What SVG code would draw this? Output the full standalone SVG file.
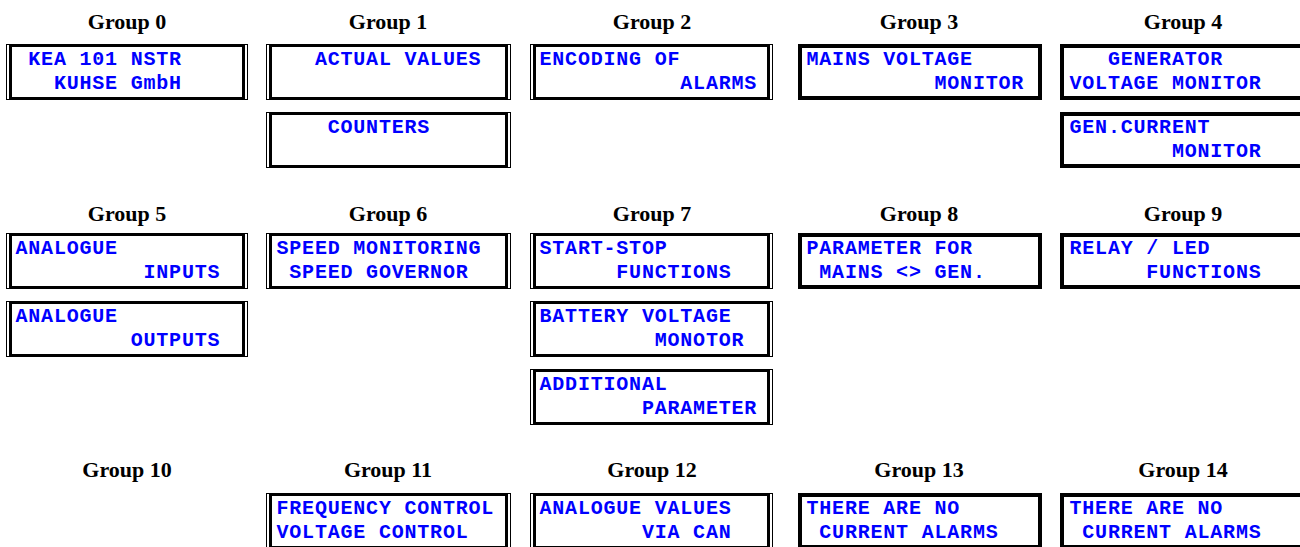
<svg xmlns="http://www.w3.org/2000/svg" width="1300" height="547" viewBox="0 0 1300 547">
<style>
.bg{fill:#ffffff}
.title{font-family:"Liberation Serif","Times New Roman",serif;font-weight:bold;font-size:22px;fill:#000;text-anchor:middle}
.lcd{font-family:"Courier New","Liberation Mono",monospace;font-weight:bold;font-size:20px;letter-spacing:0.8px;fill:#0000ff}
.thin{fill:none;stroke:#000;stroke-width:1}
.thick{fill:none;stroke:#000;stroke-width:3}
.single{fill:none;stroke:#000;stroke-width:4}
</style>
<rect class="bg" x="0" y="0" width="1300" height="547"/>
<g id="titles">
<text class="title" x="127" y="29">Group 0</text>
<text class="title" x="388" y="29">Group 1</text>
<text class="title" x="652" y="29">Group 2</text>
<text class="title" x="919" y="29">Group 3</text>
<text class="title" x="1183" y="29">Group 4</text>
<text class="title" x="127" y="221">Group 5</text>
<text class="title" x="388" y="221">Group 6</text>
<text class="title" x="652" y="221">Group 7</text>
<text class="title" x="919" y="221">Group 8</text>
<text class="title" x="1183" y="221">Group 9</text>
<text class="title" x="127" y="477">Group 10</text>
<text class="title" x="388" y="477">Group 11</text>
<text class="title" x="652" y="477">Group 12</text>
<text class="title" x="919" y="477">Group 13</text>
<text class="title" x="1183" y="477">Group 14</text>
</g>
<g id="group0">
<rect class="thin" x="6.5" y="44.5" width="241" height="55"/><rect class="thick" x="10.5" y="45.5" width="233" height="53"/>
<text class="lcd" x="28.3" y="65">KEA 101 NSTR</text><text class="lcd" x="53.9" y="89">KUHSE GmbH</text>
</g>
<g id="group1">
<rect class="thin" x="266.5" y="44.5" width="244" height="55"/><rect class="thick" x="270.5" y="45.5" width="236" height="53"/>
<text class="lcd" x="314.9" y="65">ACTUAL VALUES</text>
<rect class="thin" x="266.5" y="112.5" width="244" height="55"/><rect class="thick" x="270.5" y="113.5" width="236" height="53"/>
<text class="lcd" x="327.7" y="133">COUNTERS</text>
</g>
<g id="group2">
<rect class="thin" x="530.5" y="44.5" width="242" height="55"/><rect class="thick" x="534.5" y="45.5" width="234" height="53"/>
<text class="lcd" x="539.5" y="65">ENCODING OF</text><text class="lcd" x="680.3" y="89">ALARMS</text>
</g>
<g id="group3">
<rect class="single" x="800" y="46" width="240" height="52"/>
<text class="lcd" x="806.5" y="65">MAINS VOLTAGE</text><text class="lcd" x="934.5" y="89">MONITOR</text>
</g>
<g id="group4">
<rect class="single" x="1062" y="46" width="240" height="52"/>
<text class="lcd" x="1107.9" y="65">GENERATOR</text><text class="lcd" x="1069.5" y="89">VOLTAGE MONITOR</text>
<rect class="single" x="1062" y="114" width="240" height="52"/>
<text class="lcd" x="1069.5" y="133">GEN.CURRENT</text><text class="lcd" x="1171.9" y="157">MONITOR</text>
</g>
<g id="group5">
<rect class="thin" x="6.5" y="233.5" width="241" height="55"/><rect class="thick" x="10.5" y="234.5" width="233" height="53"/>
<text class="lcd" x="15.5" y="254">ANALOGUE</text><text class="lcd" x="143.5" y="278">INPUTS</text>
<rect class="thin" x="6.5" y="301.5" width="241" height="55"/><rect class="thick" x="10.5" y="302.5" width="233" height="53"/>
<text class="lcd" x="15.5" y="322">ANALOGUE</text><text class="lcd" x="130.7" y="346">OUTPUTS</text>
</g>
<g id="group6">
<rect class="thin" x="266.5" y="233.5" width="244" height="55"/><rect class="thick" x="270.5" y="234.5" width="236" height="53"/>
<text class="lcd" x="276.5" y="254">SPEED MONITORING</text><text class="lcd" x="289.3" y="278">SPEED GOVERNOR</text>
</g>
<g id="group7">
<rect class="thin" x="530.5" y="233.5" width="242" height="55"/><rect class="thick" x="534.5" y="234.5" width="234" height="53"/>
<text class="lcd" x="539.5" y="254">START-STOP</text><text class="lcd" x="616.3" y="278">FUNCTIONS</text>
<rect class="thin" x="530.5" y="301.5" width="242" height="55"/><rect class="thick" x="534.5" y="302.5" width="234" height="53"/>
<text class="lcd" x="539.5" y="322">BATTERY VOLTAGE</text><text class="lcd" x="654.7" y="346">MONOTOR</text>
<rect class="thin" x="530.5" y="369.5" width="242" height="55"/><rect class="thick" x="534.5" y="370.5" width="234" height="53"/>
<text class="lcd" x="539.5" y="390">ADDITIONAL</text><text class="lcd" x="641.9" y="414">PARAMETER</text>
</g>
<g id="group8">
<rect class="single" x="800" y="235" width="240" height="52"/>
<text class="lcd" x="806.5" y="254">PARAMETER FOR</text><text class="lcd" x="819.3" y="278">MAINS &lt;&gt; GEN.</text>
</g>
<g id="group9">
<rect class="single" x="1062" y="235" width="240" height="52"/>
<text class="lcd" x="1069.5" y="254">RELAY / LED</text><text class="lcd" x="1146.3" y="278">FUNCTIONS</text>
</g>
<g id="group10"></g>
<g id="group11">
<rect class="thin" x="266.5" y="493.5" width="244" height="55"/><rect class="thick" x="270.5" y="494.5" width="236" height="53"/>
<text class="lcd" x="276.5" y="514">FREQUENCY CONTROL</text><text class="lcd" x="276.5" y="538">VOLTAGE CONTROL</text>
</g>
<g id="group12">
<rect class="thin" x="530.5" y="493.5" width="242" height="55"/><rect class="thick" x="534.5" y="494.5" width="234" height="53"/>
<text class="lcd" x="539.5" y="514">ANALOGUE VALUES</text><text class="lcd" x="641.9" y="538">VIA CAN</text>
</g>
<g id="group13">
<rect class="single" x="800" y="495" width="240" height="52"/>
<text class="lcd" x="806.5" y="514">THERE ARE NO</text><text class="lcd" x="819.3" y="538">CURRENT ALARMS</text>
</g>
<g id="group14">
<rect class="single" x="1062" y="495" width="240" height="52"/>
<text class="lcd" x="1069.5" y="514">THERE ARE NO</text><text class="lcd" x="1082.3" y="538">CURRENT ALARMS</text>
</g>
<g id="connectors"></g>
</svg>
